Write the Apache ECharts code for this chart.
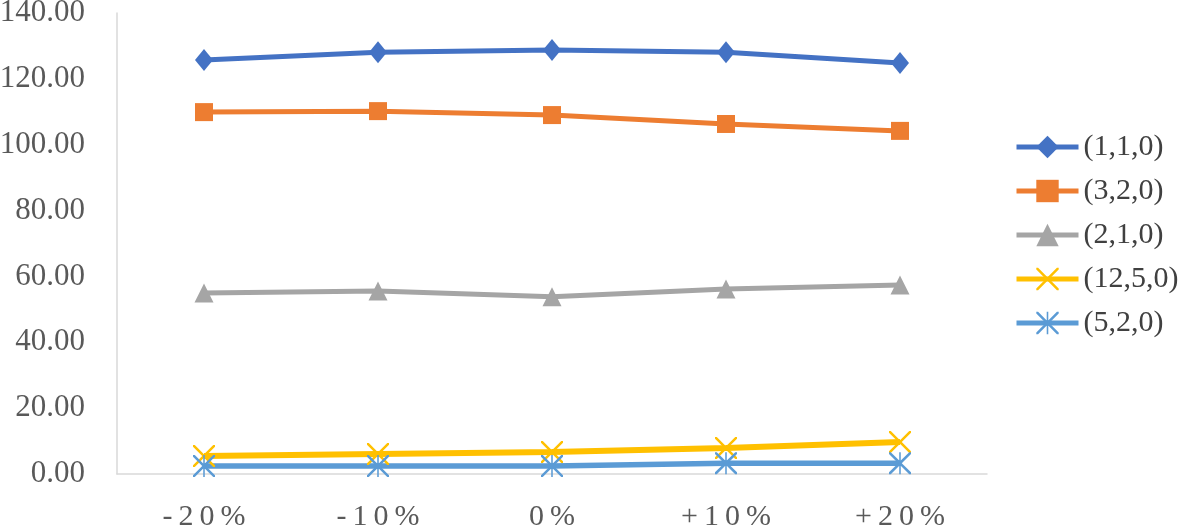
<!DOCTYPE html>
<html>
<head>
<meta charset="utf-8">
<script src="https://cdn.jsdelivr.net/npm/echarts@6/dist/echarts.min.js"></script>
<style>
html,body{margin:0;padding:0;background:#fff;}
#chart{width:1181px;height:527px;}
</style>
</head>
<body>
<div id="chart"></div>
<script>
// 数据
const categories = ['-20%', '-10%', '0%', '+10%', '+20%'];
const s110 = [125.7, 128.1, 128.8, 128.1, 124.8];
const s320 = [109.9, 110.2, 109.0, 106.3, 104.2];
const s210 = [55.0, 55.6, 53.8, 56.2, 57.4];
const s1250 = [5.5, 6.1, 6.7, 7.9, 9.7];
const s520 = [2.4, 2.4, 2.4, 3.3, 3.3];
const yTicks = [0, 20, 40, 60, 80, 100, 120, 140];

const xMark = 'path://M0,0 L1.6,0 L10,8.4 L18.4,0 L20,0 L20,1.6 L11.6,10 L20,18.4 L20,20 L18.4,20 L10,11.6 L1.6,20 L0,20 L0,18.4 L8.4,10 L0,1.6 Z';
const starMark = xMark + ' M9.3,0 L10.7,0 L10.7,20 L9.3,20 Z';
const font = '"Liberation Serif", "Times New Roman", serif';

function line(name, data, color, symbol, size, width) {
    return {
        name: name,
        type: 'line',
        data: data,
        symbol: symbol,
        symbolSize: size,
        showAllSymbol: true,
        lineStyle: { color: color, width: width || 5 },
        itemStyle: { color: color },
        emphasis: { disabled: true }
    };
}

let chart = echarts.init(document.getElementById('chart'));
let option = {
    animation: false,
    backgroundColor: '#fff',
    grid: { left: 117, right: 194, top: 13, bottom: 53, containLabel: false, outerBoundsMode: 'none' },
    legend: {
        orient: 'vertical',
        left: 1009,
        top: 127,
        itemWidth: 62,
        itemHeight: 28,
        itemGap: 14,
        lineStyle: { width: 5 },
        textStyle: { fontFamily: font, fontSize: 30, color: '#404040' },
        data: ['(1,1,0)', '(3,2,0)', '(2,1,0)', '(12,5,0)', '(5,2,0)']
    },
    xAxis: {
        type: 'category',
        data: categories,
        boundaryGap: true,
        axisLine: { show: true, lineStyle: { color: '#D9D9D9', width: 1.5 } },
        axisTick: { show: false },
        splitLine: { show: false },
        axisLabel: {
            margin: 28,
            fontFamily: font,
            fontSize: 30,
            color: '#595959',
            formatter: v => v.split('').join('\u2009')
        }
    },
    yAxis: {
        type: 'value',
        min: yTicks[0],
        max: yTicks[yTicks.length - 1],
        interval: 20,
        axisLine: { show: true, lineStyle: { color: '#D9D9D9', width: 1.5 } },
        axisTick: { show: false },
        splitLine: { show: false },
        axisLabel: {
            margin: 32,
            fontFamily: font,
            fontSize: 31,
            color: '#595959',
            formatter: v => v.toFixed(2)
        }
    },
    series: [
        line('(1,1,0)', s110, '#4472C4', 'diamond', [18, 22]),
        line('(3,2,0)', s320, '#ED7D31', 'rect', 18),
        line('(2,1,0)', s210, '#A5A5A5', 'triangle', 19),
        line('(12,5,0)', s1250, '#FFC000', xMark, 22, 6),
        line('(5,2,0)', s520, '#5B9BD5', starMark, 22, 5.5)
    ]
};
chart.setOption(option);
</script>
</body>
</html>
